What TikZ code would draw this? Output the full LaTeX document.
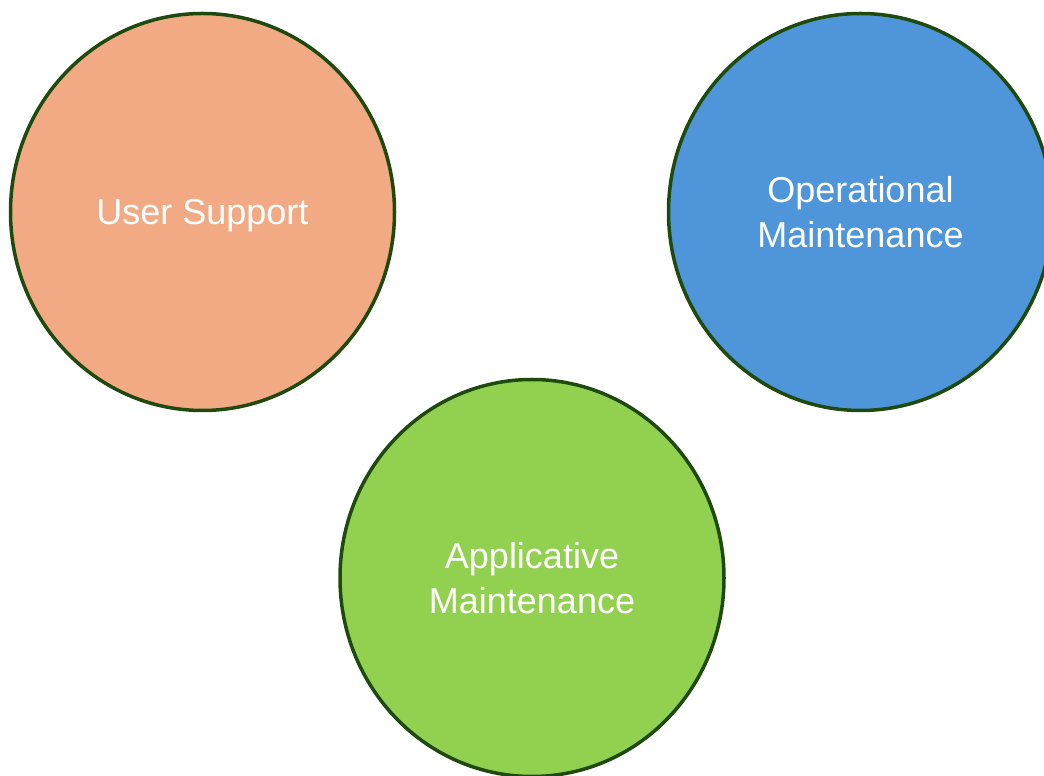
\documentclass[tikz,border=0pt]{standalone}
\usepackage{fontspec}
\setmainfont{Liberation Sans}
\usetikzlibrary{shapes.geometric}
\definecolor{supportfill}{HTML}{F2AA84}
\definecolor{operfill}{HTML}{4E95D9}
\definecolor{applfill}{HTML}{92D050}
\definecolor{ringline}{HTML}{1F4A0E}

\begin{document}
\begin{tikzpicture}[x=1pt, y=1pt,
  area/.style={ellipse, draw=ringline, line width=3.5pt, inner sep=0pt,
    minimum width=384pt, minimum height=397pt, text=white, align=center,
    font=\fontsize{36}{45}\selectfont}]

\useasboundingbox (0,0) rectangle (1044,776);

% the three circles
\node[area, fill=supportfill, text height=26pt, text depth=0pt] (support) at (202.5,564) {User Support};
\node[area, fill=operfill] (operational) at (860.5,564) {Operational\\Maintenance};
\node[area, fill=applfill] (applicative) at (532,198) {Applicative\\Maintenance};

\end{tikzpicture}
\end{document}
